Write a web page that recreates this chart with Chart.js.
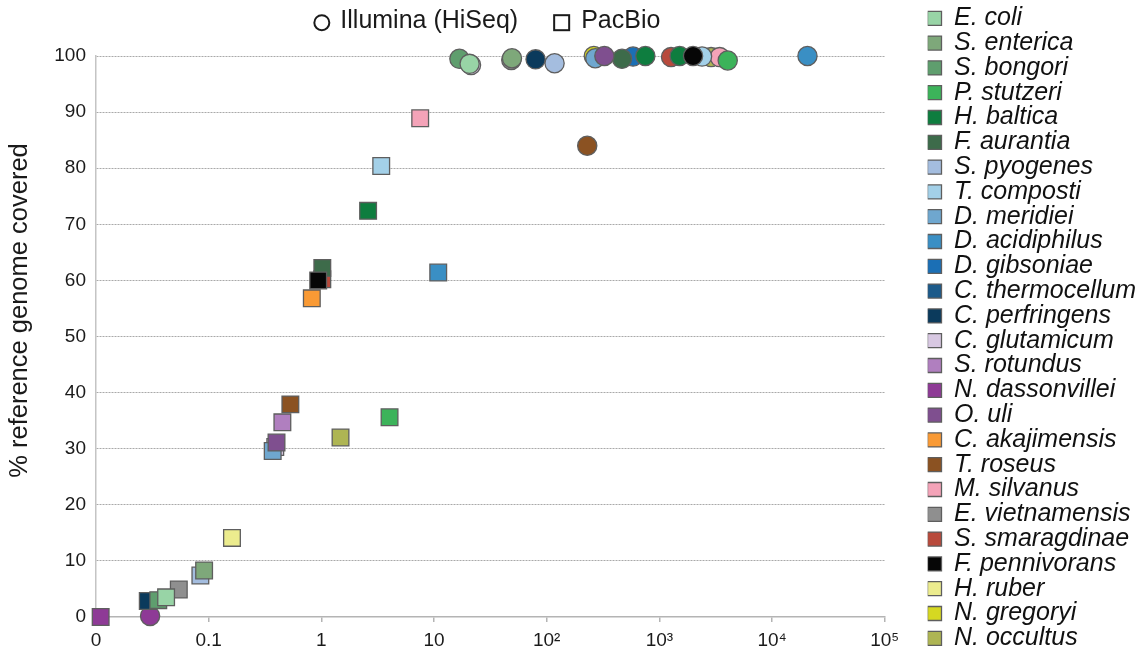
<!DOCTYPE html>
<html>
<head>
<meta charset="utf-8">
<title>Reference genome coverage</title>
<script src="https://cdn.jsdelivr.net/npm/chart.js@4.4.1/dist/chart.umd.min.js"></script>
<style>
  html, body { margin: 0; padding: 0; background: #ffffff; }
  #wrap { width: 1146px; height: 652px; }
</style>
</head>
<body>
<div id="wrap"><canvas id="coverage" width="1146" height="652"></canvas></div>
<script>
// Species, in legend order
const SPECIES = [
  'E. coli', 'S. enterica', 'S. bongori', 'P. stutzeri', 'H. baltica', 'F. aurantia',
  'S. pyogenes', 'T. composti', 'D. meridiei', 'D. acidiphilus', 'D. gibsoniae',
  'C. thermocellum', 'C. perfringens', 'C. glutamicum', 'S. rotundus', 'N. dassonvillei',
  'O. uli', 'C. akajimensis', 'T. roseus', 'M. silvanus', 'E. vietnamensis',
  'S. smaragdinae', 'F. pennivorans', 'H. ruber', 'N. gregoryi', 'N. occultus'
];

const COLORS = [
  '#98d4a6', '#7ea87a', '#5f9e6e', '#3cb35a', '#0e7d3f', '#3d6b4a',
  '#a4bddf', '#a3d0e8', '#6fa7cf', '#3a8fc4', '#1b6fb5',
  '#1c5a8a', '#0b3a5c', '#d8c8e2', '#b07fbf', '#8e3a96',
  '#7f4f8f', '#f99a35', '#8b5222', '#f4a3b8', '#8f8f8f',
  '#b84a3c', '#060606', '#ecec8e', '#d6d821', '#aeb553'
];

// Species whose marks are drawn above the others where they overlap
const DRAWN_ON_TOP = ['O. uli', 'F. pennivorans'];

// PacBio runs: x = sequencing depth, y = % of reference covered (null = no point)
const PACBIO_X = [
  0.0419, 0.0911, 0.0357, 4.03, 2.60, 1.02,
  0.0844, 3.40, 0.37, 10.9, null,
  null, 0.0288, 0.39, 0.451, 0.011,
  0.40, 0.823, 0.531, 7.54, 0.0543,
  1.02, 0.938, 0.161, null, 1.48
];
const PACBIO_Y = [
  3.5, 8.3, 3.0, 35.6, 72.4, 62.2,
  7.4, 80.4, 29.6, 61.4, null,
  null, 2.85, 30.3, 34.7, 0,
  31.1, 56.8, 37.9, 88.9, 4.9,
  60.2, 60.0, 14.1, null, 32.0
];

// Illumina (HiSeq) runs
const ILLUMINA_X = [
  20.7, 49.2, 16.8, 4043, 751, 466,
  117.5, 2393, 270, 20630, 584,
  null, 79.7, 21.3, null, 0.0302,
  325, null, 229, 3431, 48.5,
  1270, 1991, null, 262, 2878
];
const ILLUMINA_Y = [
  98.6, 99.6, 99.5, 99.2, 100, 99.5,
  98.7, 99.9, 99.6, 100, 99.9,
  null, 99.4, 98.4, null, 0.2,
  100, null, 84.0, 99.8, 99.3,
  99.8, 100, null, 100, 99.8
];

// Second Illumina run (only where one was made)
const ILLUMINA_RUN2_X = [
  null, null, null, null, 1514, null,
  null, null, null, null, null,
  null, null, null, null, null,
  null, null, null, null, null,
  null, null, null, null, null
];
const ILLUMINA_RUN2_Y = [
  null, null, null, null, 100, null,
  null, null, null, null, null,
  null, null, null, null, null,
  null, null, null, null, null,
  null, null, null, null, null
];

// Axis ticks
const X_TICKS = [0.01, 0.1, 1, 10, 100, 1000, 10000, 100000];
const X_TICK_LABELS = ['0', '0.1', '1', '10', '10\u00B2', '10\u00B3', '10\u2074', '10\u2075'];
const Y_MIN = 0, Y_MAX = 100, Y_STEP = 10;
const Y_TITLE = '% reference genome covered';

const FONT = "'Liberation Sans', Arial, Helvetica, sans-serif";
const SQUARE_R = 11.8;
const CIRCLE_R = 9.6;
const MARK_BORDER = '#5e5e5e';
const LEGEND_GAP = 43;

Chart.defaults.font.family = FONT;
Chart.defaults.color = '#1a1a1a';

const datasets = SPECIES.map((name, i) => {
  const data = [], styles = [], radii = [];
  const add = (x, y, style, r) => {
    if (x === null) return;
    data.push({ x, y });
    styles.push(style);
    radii.push(r);
  };
  add(PACBIO_X[i], PACBIO_Y[i], 'rect', SQUARE_R);
  add(ILLUMINA_X[i], ILLUMINA_Y[i], 'circle', CIRCLE_R);
  add(ILLUMINA_RUN2_X[i], ILLUMINA_RUN2_Y[i], 'circle', CIRCLE_R);
  return {
    label: name,
    data,
    order: DRAWN_ON_TOP.includes(name) ? -1 : 0,
    backgroundColor: COLORS[i],
    borderColor: MARK_BORDER,
    borderWidth: 1.3,
    pointStyle: styles,
    pointRadius: radii,
    pointHoverRadius: radii,
    clip: false
  };
});

// Key for the two sequencing platforms (band above the plot), the rotated
// y-axis title, and the species key position next to the plot
const platformKey = {
  id: 'platformKey',
  beforeInit(chart) {
    const box = {
      position: 'top',
      weight: 0,
      fullSize: false,
      options: { display: true },
      left: 0, top: 0, right: 0, bottom: 0, width: 0, height: 0,
      isHorizontal() { return true; },
      update(maxWidth) { this.width = maxWidth; this.height = 50; },
      draw() {
        const ctx = chart.ctx;
        ctx.save();
        ctx.font = '25px ' + FONT;
        ctx.fillStyle = '#1a1a1a';
        ctx.strokeStyle = '#1a1a1a';
        ctx.lineWidth = 2;
        ctx.textBaseline = 'middle';
        const t1 = 'Illumina (HiSeq)', t2 = 'PacBio';
        const w1 = ctx.measureText(t1).width, w2 = ctx.measureText(t2).width;
        const sym = 15, g1 = 11, g2 = 36, g3 = 12;
        const total = sym + g1 + w1 + g2 + sym + g3 + w2;
        let x = (this.left + this.right) / 2 - total / 2 - 3;
        const ySym = this.top + 16.7, yTxt = this.top + 15;
        ctx.beginPath();
        ctx.arc(x + sym / 2, ySym, sym / 2, 0, Math.PI * 2);
        ctx.stroke();
        x += sym + g1;
        ctx.fillText(t1, x, yTxt);
        x += w1 + g2;
        ctx.strokeRect(x, ySym - sym / 2, sym, sym);
        x += sym + g3;
        ctx.fillText(t2, x, yTxt);
        ctx.restore();
      }
    };
    Chart.layouts.addBox(chart, box);
  },
  afterLayout(chart) {
    const lg = chart.legend;
    if (lg) {
      const w = lg.width;
      lg.left = chart.chartArea.right + LEGEND_GAP;
      lg.right = lg.left + w;
    }
  },
  afterDraw(chart) {
    const { ctx, chartArea } = chart;
    ctx.save();
    ctx.font = '25.5px ' + FONT;
    ctx.fillStyle = '#1a1a1a';
    ctx.textAlign = 'center';
    ctx.textBaseline = 'middle';
    ctx.translate(20, (chartArea.top + chartArea.bottom) / 2 - 26);
    ctx.rotate(-Math.PI / 2);
    ctx.fillText(Y_TITLE, 0, 0);
    ctx.restore();
  }
};

new Chart(document.getElementById('coverage'), {
  type: 'scatter',
  data: { datasets },
  plugins: [platformKey],
  options: {
    responsive: false,
    animation: false,
    events: [],
    layout: { padding: { top: 6, right: 43, bottom: 0, left: 0 } },
    plugins: {
      tooltip: { enabled: false },
      legend: {
        display: true,
        position: 'right',
        align: 'start',
        labels: {
          boxWidth: 14,
          boxHeight: 14,
          padding: -0.2,
          color: '#111111',
          font: { size: 25, style: 'italic', family: FONT },
          sort: (a, b) => a.datasetIndex - b.datasetIndex
        }
      }
    },
    scales: {
      x: {
        type: 'logarithmic',
        min: X_TICKS[0],
        max: X_TICKS[X_TICKS.length - 1],
        afterBuildTicks(scale) { scale.ticks = X_TICKS.map(v => ({ value: v })); },
        afterFit(scale) { scale.height = 35; },
        grid: { drawOnChartArea: false, drawTicks: true, tickLength: 5, color: '#b4b4b4', lineWidth: 1.5 },
        border: { display: true, color: '#b4b4b4', width: 1.5 },
        ticks: {
          autoSkip: false,
          maxRotation: 0,
          padding: 7,
          color: '#1a1a1a',
          font: { size: 19 },
          callback(value) {
            const i = X_TICKS.findIndex(t => Math.abs(Math.log10(t) - Math.log10(value)) < 1e-6);
            return i >= 0 ? X_TICK_LABELS[i] : '';
          }
        }
      },
      y: {
        type: 'linear',
        min: Y_MIN,
        max: Y_MAX,
        afterFit(scale) { scale.width = 96; },
        grid: {
          drawTicks: false,
          color: ctx => (ctx.tick && ctx.tick.value === 0 ? 'rgba(0,0,0,0)' : '#a9a9a9'),
          lineWidth: 1
        },
        border: { display: true, color: '#c4c4c4', width: 1.5, dash: [2, 1] },
        ticks: { stepSize: Y_STEP, padding: 10, color: '#1a1a1a', font: { size: 19 } },
        title: { display: false }
      }
    }
  }
});
</script>
</body>
</html>
